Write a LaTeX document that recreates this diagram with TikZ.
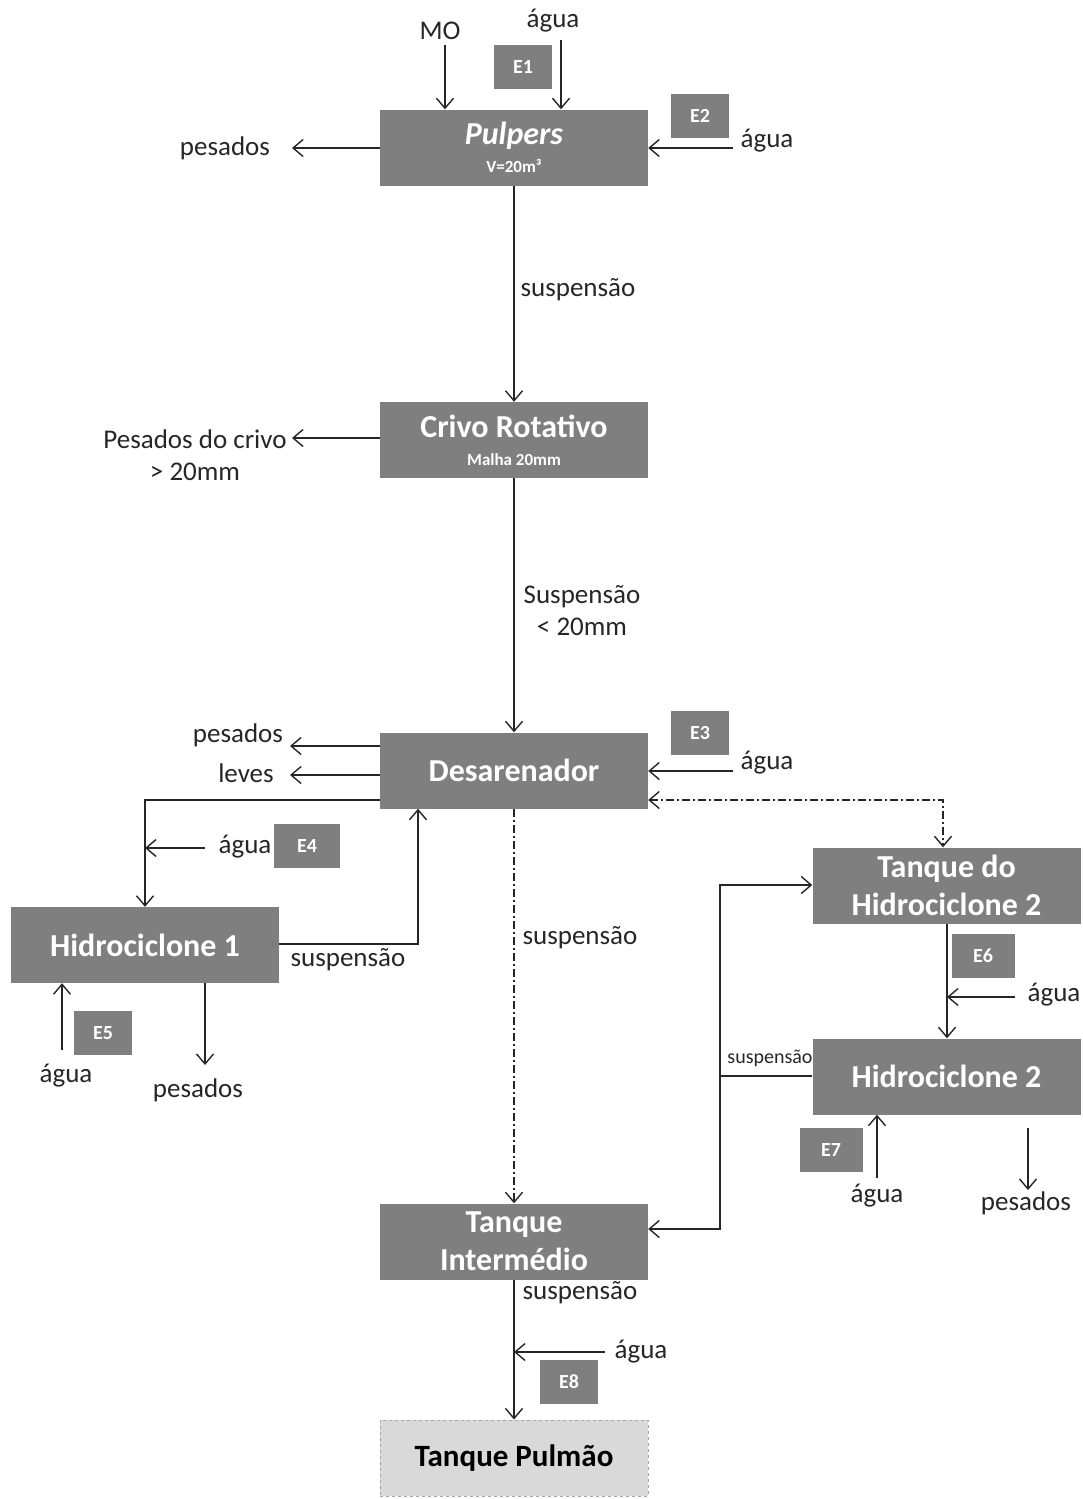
\documentclass[tikz,border=0pt]{standalone}
\usepackage{fontspec}
\setmainfont{Carlito}
\usetikzlibrary{arrows.meta}
\definecolor{boxgray}{HTML}{7F7F7F}
\definecolor{paleGray}{HTML}{D9D9D9}
\definecolor{edgeGray}{HTML}{A6A6A6}
\definecolor{ink}{HTML}{262626}
\begin{document}
\begin{tikzpicture}[x=1pt,y=-1pt,
  unit/.style={fill=boxgray,text=white,font=\bfseries\fontsize{32}{38}\selectfont,
    minimum width=268pt,minimum height=76pt,inner sep=0pt,align=center},
  tag/.style={fill=boxgray,text=white,font=\bfseries\fontsize{20}{24}\selectfont,
    minimum width=58pt,minimum height=44pt,inner sep=0pt},
  lbl/.style={text=ink,font=\fontsize{27}{32}\selectfont,inner sep=0pt,align=center},
  arr/.style={draw=ink,line width=1.4pt,-{Straight Barb[length=10pt,width=17pt,line width=1.4pt]}},
  ln/.style={draw=ink,line width=1.4pt},
  dashdot/.style={draw=ink,line width=1.2pt,dash pattern=on 8pt off 3pt on 2pt off 3pt}]
\useasboundingbox (0,0) rectangle (1082,1499);

% process units
\node[unit] (pulp) at (514,147.5) {\textit{Pulpers}\\[-10pt]{\fontsize{17}{20}\selectfont V=20m³}};
\node[unit] (crivo) at (514,440) {Crivo Rotativo\\[-10pt]{\fontsize{17}{20}\selectfont Malha 20mm}};
\node[unit] (desar) at (514,770.5) {Desarenador};
\node[unit] (hid1) at (145,945) {Hidrociclone 1};
\node[unit] (th2) at (946.5,885.5) {Tanque do\\Hidrociclone 2};
\node[unit] (hid2) at (946.5,1076.5) {Hidrociclone 2};
\node[unit] (tint) at (514,1241.5) {Tanque\\Intermédio};
\node[unit,fill=paleGray,draw=edgeGray,dashed,line width=1pt,text=black,font=\bfseries\fontsize{31}{36}\selectfont] (tpul) at (514,1458) {Tanque Pulmão};

% water inlet tags
\node[tag] (e1) at (523,67) {E1};
\node[tag] (e2) at (700,116) {E2};
\node[tag] (e3) at (700,733) {E3};
\node[tag,minimum width=66pt] (e4) at (307,846) {E4};
\node[tag] (e5) at (103,1033) {E5};
\node[tag,minimum width=63pt] (e6) at (983,956) {E6};
\node[tag,minimum width=63pt] (e7) at (831,1150) {E7};
\node[tag] (e8) at (569,1382) {E8};

% text labels
\node[lbl] (mo) at (440,31) {MO};
\node[lbl] (ag1) at (553,21) {água};
\node[lbl] (ag2) at (767,141) {água};
\node[lbl] (pes1) at (225,148) {pesados};
\node[lbl] (sus1) at (578,290) {suspensão};
\node[lbl] (pcr) at (195,455) {Pesados do crivo\\> 20mm};
\node[lbl] (sus2) at (582,611) {Suspensão\\< 20mm};
\node[lbl] (pes2) at (238,735) {pesados};
\node[lbl] (lev) at (246,773) {leves};
\node[lbl] (ag3) at (767,763) {água};
\node[lbl] (ag4) at (245,847) {água};
\node[lbl] (sus3) at (348,960) {suspensão};
\node[lbl] (sus4) at (580,938) {suspensão};
\node[lbl] (ag5) at (66,1076) {água};
\node[lbl] (pes3) at (198,1090) {pesados};
\node[lbl] (ag6) at (1054,995) {água};
\node[lbl,font=\fontsize{20}{24}\selectfont] (sus5) at (770,1058) {suspensão};
\node[lbl] (ag7) at (877,1196) {água};
\node[lbl] (pes4) at (1026,1203) {pesados};
\node[lbl] (sus6) at (580,1293) {suspensão};
\node[lbl] (ag8) at (641,1352) {água};

% free ends of the connectors
\coordinate (moS) at (445,45);
\coordinate (a1S) at (561,40);
\coordinate (a2W) at (733,148);
\coordinate (p1E) at (292,148);
\coordinate (pcE) at (292,438);
\coordinate (p2E) at (290,746);
\coordinate (lvE) at (290,775);
\coordinate (a3W) at (733,771);
\coordinate (dl) at (145,800);
\coordinate (a4W) at (205,848);
\coordinate (hs) at (418,944);
\coordinate (dd) at (943,800);
\coordinate (p3S) at (205,1065);
\coordinate (a5N) at (62,1050);
\coordinate (a6W) at (1015,997);
\coordinate (ax6) at (947,997);
\coordinate (j) at (720,1076);
\coordinate (jt) at (720,885);
\coordinate (jb) at (720,1229);
\coordinate (a7S) at (877,1178);
\coordinate (p4N) at (1028,1128);
\coordinate (p4S) at (1028,1190);
\coordinate (a8W) at (605,1352);

% Pulpers
\draw[arr] (moS) -- (moS |- pulp.north);
\draw[arr] (a1S) -- (a1S |- pulp.north);
\draw[arr] (a2W) -- (pulp.east |- a2W);
\draw[arr] (pulp.west |- p1E) -- (p1E);
\draw[arr] (pulp.south) -- (crivo.north);

% Crivo Rotativo
\draw[arr] (crivo.west |- pcE) -- (pcE);
\draw[arr] (crivo.south) -- (desar.north);

% Desarenador
\draw[arr] (desar.west |- p2E) -- (p2E);
\draw[arr] (desar.west |- lvE) -- (lvE);
\draw[arr] (a3W) -- (desar.east |- a3W);
\draw[arr] (desar.west |- dl) -- (dl) -- (hid1.north -| dl);
\draw[arr] (a4W) -- (dl |- a4W);
\draw[arr] (hid1.east |- hs) -- (hs) -- (desar.south -| hs);
\draw[dashdot,{Straight Barb[length=10pt,width=17pt,line width=1.4pt]}-{Straight Barb[length=10pt,width=17pt,line width=1.4pt]}]
  (desar.east |- dd) -- (dd) -- (th2.north -| dd);
\draw[dashdot,-{Straight Barb[length=10pt,width=17pt,line width=1.4pt]}] (desar.south) -- (tint.north);

% Hidrociclone 1
\draw[arr] (hid1.south -| p3S) -- (p3S);
\draw[arr] (a5N) -- (hid1.south -| a5N);

% Hidrociclone 2 line
\draw[arr] (th2.south -| ax6) -- (hid2.north -| ax6);
\draw[arr] (a6W) -- (ax6);
\draw[ln] (hid2.west |- j) -- (j);
\draw[arr] (j) -- (jt) -- (th2.west |- jt);
\draw[arr] (j) -- (jb) -- (tint.east |- jb);
\draw[arr] (a7S) -- (hid2.south -| a7S);
\draw[arr] (p4N) -- (p4S);

% Tanque Intermedio to Tanque Pulmao
\draw[arr] (tint.south) -- (tpul.north);
\draw[arr] (a8W) -- (tint.south |- a8W);
\end{tikzpicture}
\end{document}
